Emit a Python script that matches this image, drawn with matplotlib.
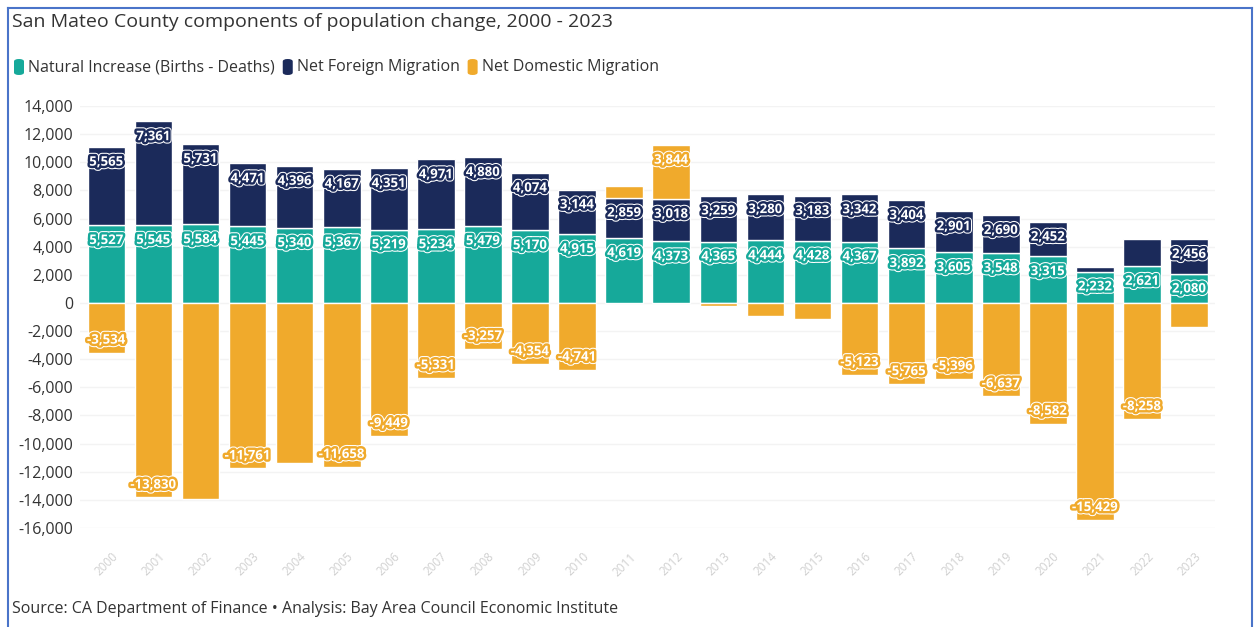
import matplotlib
matplotlib.use("Agg")
import matplotlib.pyplot as plt
import matplotlib.patheffects as pe
from matplotlib.lines import Line2D
from matplotlib.patches import FancyBboxPatch
import numpy as np

plt.rcParams["font.family"] = ["Open Sans", "DejaVu Sans"]

years = [str(y) for y in range(2000, 2024)]
natural_increase = [5527, 5545, 5584, 5445, 5340, 5367, 5219, 5234, 5479, 5170, 4915, 4619,
                    4373, 4365, 4444, 4428, 4367, 3892, 3605, 3548, 3315, 2232, 2621, 2080]
foreign_migration = [5565, 7361, 5731, 4471, 4396, 4167, 4351, 4971, 4880, 4074, 3144, 2859,
                     3018, 3259, 3280, 3183, 3342, 3404, 2901, 2690, 2452, 350, 1930, 2456]
domestic_migration = [-3534, -13830, -13930, -11761, -11350, -11658, -9449, -5331, -3257, -4354,
                      -4741, 830, 3844, -200, -900, -1130, -5123, -5765, -5396, -6637, -8582,
                      -15429, -8258, -1680]
# years whose segment carries no value label
unlabeled_foreign = ["2021", "2022"]
unlabeled_domestic = ["2002", "2004", "2011", "2013", "2014", "2015", "2023"]

series_names = ["Natural Increase (Births - Deaths)", "Net Foreign Migration", "Net Domestic Migration"]
c_teal = "#16a99a"
c_navy = "#1b2a5a"
c_orange = "#f0aa2c"

W, H = 1257, 627
fig = plt.figure(figsize=(W / 100, H / 100), dpi=100)
fig.patch.set_facecolor("white")

# axes placement in pixels
ax_left, ax_right = 80, 1215
ax_top, ax_bottom = 106, 528
ax = fig.add_axes([ax_left / W, 1 - ax_bottom / H, (ax_right - ax_left) / W, (ax_bottom - ax_top) / H])

x = np.arange(len(years))
nat = np.array(natural_increase, dtype=float)
fgn = np.array(foreign_migration, dtype=float)
dom = np.array(domestic_migration, dtype=float)
width = 0.8

ax.bar(x, nat, width, color=c_teal, edgecolor="white", linewidth=1, zorder=2)
ax.bar(x, fgn, width, bottom=nat, color=c_navy, edgecolor="white", linewidth=1, zorder=2)
dom_bottom = np.where(dom > 0, nat + fgn, 0)
ax.bar(x, dom, width, bottom=dom_bottom, color=c_orange, edgecolor="white", linewidth=1, zorder=2)

ax.set_ylim(-16000, 14000)
ax.set_xlim(-0.56, 23.55)
ax.set_yticks(np.arange(-16000, 14001, 2000))
ax.set_yticklabels([f"{v:,}" for v in range(-16000, 14001, 2000)], fontsize=11.5, color="#333333")
ax.set_xticks(x)
ax.set_xticklabels(years, rotation=45, fontsize=8.5, color="#d0d0d0", ha="center", va="top")
ax.tick_params(axis="both", length=0, pad=5)
ax.tick_params(axis="x", pad=16)
for s in ax.spines.values():
    s.set_visible(False)
ax.grid(axis="y", color="#f3f3f3", linewidth=1, zorder=0)
ax.set_axisbelow(True)


def label(xi, y, value, color, offset):
    ax.annotate(f"{int(value):,}", (xi, y), xytext=(0, offset), textcoords="offset points",
                ha="center", va="center", fontsize=9.5, fontweight="bold", color="white", zorder=5,
                path_effects=[pe.Stroke(linewidth=5, foreground="white"),
                              pe.Stroke(linewidth=3.5, foreground=color), pe.Normal()])


for i, yr in enumerate(years):
    label(i, nat[i], nat[i], c_teal, -11)
    if yr not in unlabeled_foreign:
        label(i, nat[i] + fgn[i], fgn[i], c_navy, -11)
    if yr not in unlabeled_domestic:
        if dom[i] > 0:
            label(i, nat[i] + fgn[i] + dom[i], dom[i], c_orange, -11)
        else:
            label(i, dom[i], dom[i], c_orange, 9)

# title, legend, footer
fig.text(12 / W, 1 - 22 / H, "San Mateo County components of population change, 2000 - 2023",
         fontsize=14, color="#333333", va="center", ha="left")

leg_x = 14
leg_colors = [c_teal, c_navy, c_orange]
renderer = fig.canvas.get_renderer()
for name, col in zip(series_names, leg_colors):
    sq = FancyBboxPatch((leg_x / W, 1 - 75 / H), 10 / W, 16 / H,
                        boxstyle="round,pad=0,rounding_size=0.004", transform=fig.transFigure,
                        facecolor=col, edgecolor="none")
    fig.patches.append(sq)
    t = fig.text((leg_x + 14) / W, 1 - 67 / H, name, fontsize=11.5, color="#333333",
                 va="center", ha="left")
    bb = t.get_window_extent(renderer=renderer)
    leg_x = bb.x1 + 8

fig.text(12 / W, 1 - 609 / H, "Source: CA Department of Finance \u2022 Analysis: Bay Area Council Economic Institute",
         fontsize=11.5, color="#333333", va="center", ha="left")

# outer frame
frame_color = "#4a74c9"
fig.add_artist(Line2D([8 / W, 8 / W], [0, 1 - 8 / H], transform=fig.transFigure, color=frame_color, lw=1.5))
fig.add_artist(Line2D([8 / W, 1252 / W], [1 - 8 / H, 1 - 8 / H], transform=fig.transFigure, color=frame_color, lw=1.5))
fig.add_artist(Line2D([1252 / W, 1252 / W], [0, 1 - 8 / H], transform=fig.transFigure, color=frame_color, lw=1.5))

fig.savefig("out.png", dpi=100, facecolor="white")
